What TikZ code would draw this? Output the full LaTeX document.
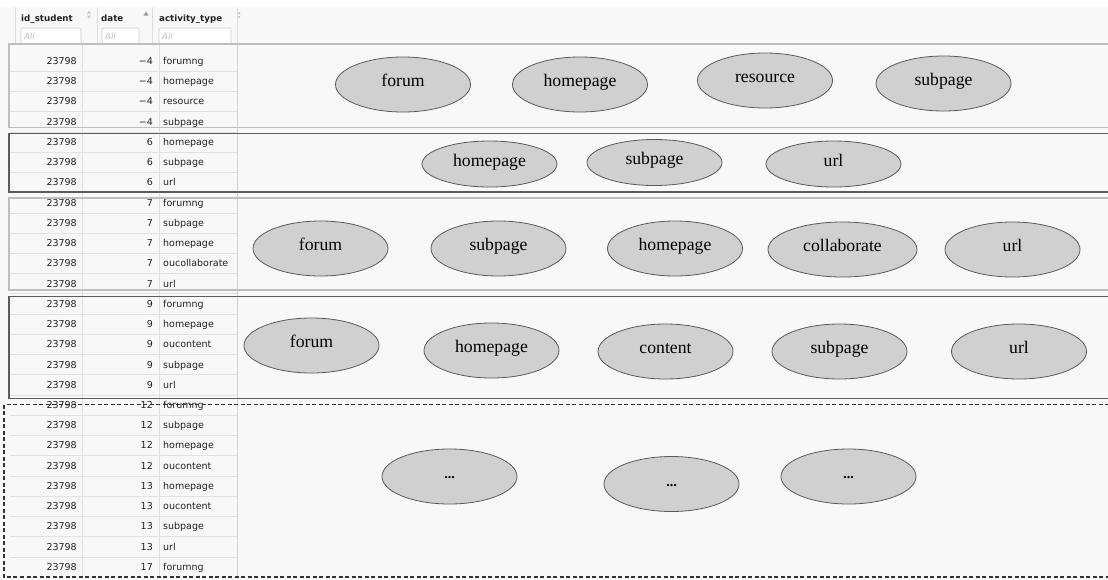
\documentclass[tikz,border=0pt]{standalone}
\usepackage{fontspec}
\setmainfont{Liberation Serif}
\newfontfamily\tablefont{DejaVu Sans}
\usetikzlibrary{shapes.geometric}
\definecolor{bgc}{HTML}{F8F8F8}
\definecolor{txtc}{HTML}{222222}
\definecolor{ellfill}{HTML}{D0D0D0}
\definecolor{elldraw}{HTML}{5A5A5A}
\definecolor{gridc}{HTML}{E2E2E2}
\definecolor{lightbox}{HTML}{BEBEBE}
\definecolor{darkbox}{HTML}{5C5C5C}
\tikzset{
  act/.style={ellipse, draw=elldraw, fill=ellfill, line width=0.8pt, inner sep=0pt,
    minimum width=135pt, minimum height=55pt,
    font=\fontsize{17.7}{20}\selectfont, text=black, text height=0.68em, text depth=0.22em},
  actlow/.style={act, minimum height=46pt},
  cell/.style={inner sep=0pt, font=\tablefont\fontsize{9.5}{11}\selectfont, text=txtc},
  headtxt/.style={inner sep=0pt, anchor=base west, font=\tablefont\bfseries\fontsize{8.7}{10}\selectfont, text=txtc},
  filterbox/.style={draw=gray!40, fill=white, rounded corners=2pt, line width=0.6pt},
  filtertxt/.style={inner sep=0pt, anchor=base west, font=\tablefont\itshape\fontsize{8.5}{10}\selectfont, text=gray!50},
  rowline/.style={draw=gridc, line width=0.6pt},
  colline/.style={draw=gray!25, line width=0.7pt},
  lightgroup/.style={draw=lightbox, line width=1.4pt},
  darkgroup/.style={draw=darkbox, line width=1.5pt},
  dashgroup/.style={draw=black!80, line width=1.1pt, dash pattern=on 4pt off 2.5pt}
}
\begin{document}
\begin{tikzpicture}[x=1pt,y=-1pt]
\useasboundingbox (0,0) rectangle (1108,579);
\clip (0,0) rectangle (1108,579);
\fill[bgc] (0,0) rectangle (1108,579);
\fill[white] (0,0) rectangle (1108,7);

% header
\foreach \x in {15,97,152,237} \draw[colline] (\x,7) -- (\x,45);
\node[headtxt] (hid) at (21,21.5) {id\_student};
\node[headtxt] (hdate) at (101,21.5) {date};
\node[headtxt] (hact) at (159,21.5) {activity\_type};
\fill[gray!45] (89,10.5) -- (87,13.5) -- (91,13.5) -- cycle;
\fill[gray!45] (87,15.5) -- (91,15.5) -- (89,18.5) -- cycle;
\fill[gray!80] (146,11.5) -- (143.5,15.5) -- (148.5,15.5) -- cycle;
\fill[gray!45] (239,11.5) -- (237.5,14) -- (240.5,14) -- cycle;
\fill[gray!45] (237.5,16) -- (240.5,16) -- (239,18.5) -- cycle;
\draw[filterbox] (21,28) rectangle (81,44);
\draw[filterbox] (102,28) rectangle (139,44);
\draw[filterbox] (159,28) rectangle (231,44);
\node[filtertxt] (fid) at (24,39.5) {All};
\node[filtertxt] (fdate) at (105,39.5) {All};
\node[filtertxt] (fact) at (162,39.5) {All};

% table grid
\foreach \i in {0,...,24} \draw[rowline] (10,{71.12+20.24*\i}) -- (237,{71.12+20.24*\i});
\draw[colline] (82,45) -- (82,579);
\draw[colline] (159,45) -- (159,579);
\draw[draw=gray!35, line width=0.9pt] (237,45) -- (237,579);

% table rows
\foreach \d/\a [count=\i from 0] in {−4/forumng,−4/homepage,−4/resource,−4/subpage,
  6/homepage,6/subpage,6/url,
  7/forumng,7/subpage,7/homepage,7/oucollaborate,7/url,
  9/forumng,9/homepage,9/oucontent,9/subpage,9/url,
  12/forumng,12/subpage,12/homepage,12/oucontent,13/homepage,13/oucontent,13/subpage,13/url,17/forumng}{
  \node[cell, anchor=base east] (id\i) at (77,{61+20.24*\i+3.4}) {23798};
  \node[cell, anchor=base east] (dt\i) at (153,{61+20.24*\i+3.4}) {\d};
  \node[cell, anchor=base west] (ac\i) at (163,{61+20.24*\i+3.4}) {\a};
}

% group boxes
\draw[lightgroup] (9,44) rectangle (1125,127.5);
\draw[darkgroup] (9,133.5) rectangle (1125,192);
\draw[lightgroup] (9,198) rectangle (1125,290);
\draw[darkgroup] (9,296.5) rectangle (1125,398.5);
\draw[dashgroup] (4,404.5) rectangle (1125,577);

% ellipses group 1
\node[act] (g1a) at (403,84.5) {forum};
\node[act] (g1b) at (580,84.5) {homepage};
\node[act] (g1c) at (765,80.5) {resource};
\node[act] (g1d) at (943.5,83.5) {subpage};
% group 2
\node[actlow] (g2a) at (489.5,164) {homepage};
\node[actlow] (g2b) at (654.5,162.5) {subpage};
\node[actlow] (g2c) at (833.5,164) {url};
% group 3
\node[act] (g3a) at (320.5,248.5) {forum};
\node[act] (g3b) at (498.5,248.5) {subpage};
\node[act] (g3c) at (675,248.5) {homepage};
\node[act, minimum width=149pt] (g3d) at (842.5,249.5) {collaborate};
\node[act] (g3e) at (1012.5,249.5) {url};
% group 4
\node[act] (g4a) at (311.5,345.5) {forum};
\node[act] (g4b) at (491.5,350.5) {homepage};
\node[act] (g4c) at (665.5,351.5) {content};
\node[act] (g4d) at (839.5,351.5) {subpage};
\node[act] (g4e) at (1019,351.5) {url};
% group 5
\node[act, font=\bfseries\fontsize{14}{16}\selectfont] (g5a) at (449.5,476.5) {...};
\node[act, font=\bfseries\fontsize{14}{16}\selectfont] (g5b) at (671.5,484) {...};
\node[act, font=\bfseries\fontsize{14}{16}\selectfont] (g5c) at (848.5,476.5) {...};
\end{tikzpicture}
\end{document}
